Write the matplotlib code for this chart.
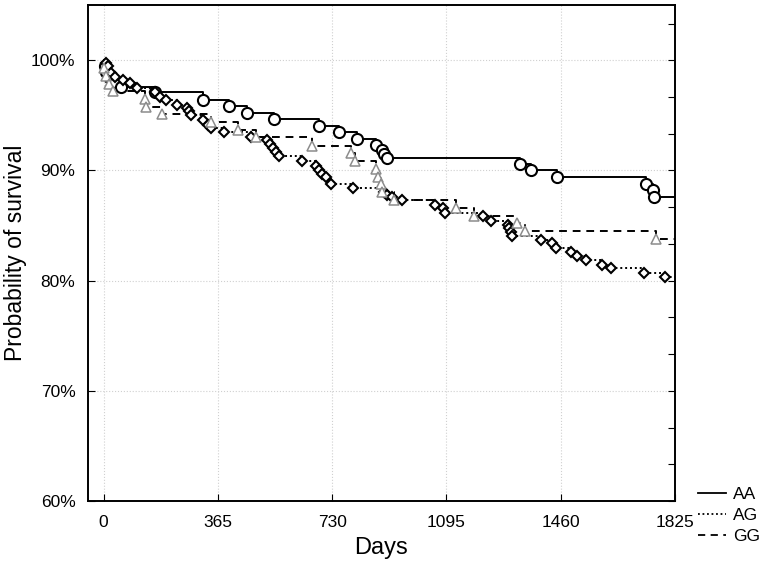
import matplotlib
matplotlib.use("Agg")
import matplotlib.pyplot as plt
from matplotlib.lines import Line2D
from matplotlib import ticker
import numpy as np

plt.rcParams["font.family"] = ["Liberation Sans", "DejaVu Sans"]

# Kaplan-Meier steps (day, survival %)
aa_days = [3, 8, 20, 35, 57, 163, 316, 402, 459, 546, 689, 753, 810, 871, 890,
           897, 906, 1330, 1366, 1449, 1733, 1755, 1760]
aa_surv = [99.45, 98.9, 98.4, 98.0, 97.6, 97.14, 96.42, 95.83, 95.24, 94.65,
           94.06, 93.47, 92.88, 92.34, 91.84, 91.52, 91.13, 90.54, 90.0, 89.39,
           88.8, 88.2, 87.6]

ag_days = [9, 13, 25, 35, 61, 83, 108, 163, 179, 198, 236, 268, 274, 280, 316,
           332, 344, 386, 471, 523, 533, 542, 552, 562, 635, 679, 689, 699, 712,
           727, 798, 897, 906, 921, 954, 1059, 1085, 1091, 1212, 1238, 1292,
           1297, 1301, 1304, 1398, 1433, 1444, 1492, 1513, 1540, 1593, 1620,
           1726, 1793]
ag_surv = [99.75, 99.5, 98.84, 98.5, 98.23, 97.93, 97.48, 97.08, 96.66, 96.36,
           95.97, 95.67, 95.36, 95.06, 94.61, 94.15, 93.85, 93.45, 93.04, 92.75,
           92.43, 92.07, 91.7, 91.3, 90.83, 90.44, 90.07, 89.71, 89.39, 88.8,
           88.4, 88.01, 87.81, 87.56, 87.29, 86.87, 86.55, 86.13, 85.84, 85.39,
           85.09, 84.77, 84.45, 84.03, 83.73, 83.39, 82.97, 82.59, 82.26, 81.85,
           81.46, 81.12, 80.71, 80.33]

gg_days = [2, 8, 18, 30, 131, 136, 188, 344, 431, 488, 666, 790, 804, 870, 878,
           886, 891, 928, 1125, 1184, 1322, 1346, 1765]
gg_surv = [99.29, 98.59, 97.87, 97.19, 96.46, 95.74, 95.1, 94.42, 93.7, 93.0,
           92.25, 91.61, 90.83, 90.16, 89.44, 88.76, 88.08, 87.31, 86.58, 85.9,
           85.22, 84.5, 83.79]

x_ticks = [0, 365, 730, 1095, 1460, 1825]
y_ticks = [0.6, 0.7, 0.8, 0.9, 1.0]
end_day = 1825

fig = plt.figure(figsize=(7.65, 5.71), dpi=100)
ax = fig.add_axes([0.115, 0.1226, 0.767, 0.8684])


def km_curve(days, surv, ls, marker, ms, mec, mew):
    t = np.concatenate([[0], days, [end_day]])
    s = np.concatenate([[100], surv, [surv[-1]]]) / 100
    ax.step(t, s, where="post", color="black", linestyle=ls, linewidth=1.4,
            zorder=3)
    ax.plot(np.array(days), np.array(surv) / 100, linestyle="none",
            marker=marker, markersize=ms, markerfacecolor="white",
            markeredgecolor=mec, markeredgewidth=mew, zorder=4)


km_curve(aa_days, aa_surv, "-", "o", 8, "black", 1.5)
km_curve(ag_days, ag_surv, (0, (1, 1.5)), "D", 5, "black", 1.5)
km_curve(gg_days, gg_surv, (0, (4, 3)), "^", 6.5, "#8c8c8c", 1.1)

ax.set_xlim(-50, 1825)
ax.set_ylim(0.6, 1.05)
ax.set_xticks(x_ticks)
ax.set_yticks(y_ticks)
ax.yaxis.set_major_formatter(ticker.FuncFormatter(lambda v, p: f"{v*100:.0f}%"))
ax.grid(True, color="#d0d0d0", linestyle=":", linewidth=0.8)
ax.tick_params(axis="both", direction="in", length=5, labelsize=12.5, pad=10)
ax.tick_params(axis="y", pad=9)

# ticks on the right spine
ax2 = ax.twinx()
ax2.set_ylim(0.6, 1.05)
ax2.set_yticks(np.arange(0.6, 1.05, 1 / 30))
ax2.tick_params(axis="y", direction="in", length=5, labelright=False)

for a in (ax, ax2):
    for sp in a.spines.values():
        sp.set_linewidth(1.2)

ax.set_xlabel("Days", fontsize=17, labelpad=5)
ax.set_ylabel("Probability of survival", fontsize=16.5, labelpad=3)

handles = [Line2D([], [], color="black", linestyle="-", linewidth=1.3),
           Line2D([], [], color="black", linestyle=(0, (1, 1.5)), linewidth=1.3),
           Line2D([], [], color="black", linestyle=(0, (4, 3)), linewidth=1.3)]
fig.legend(handles, ["AA", "AG", "GG"], loc="center left",
           bbox_to_anchor=(0.913, 0.097), frameon=False, fontsize=12.5,
           handlelength=1.6, handletextpad=0.4, labelspacing=0.35,
           borderaxespad=0, borderpad=0)

fig.savefig("out.png", dpi=100)
